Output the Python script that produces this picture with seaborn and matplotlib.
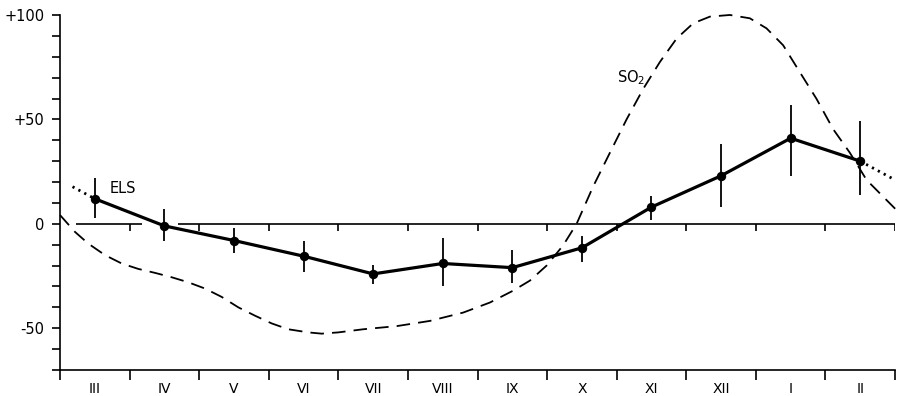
import numpy as np
import pandas as pd
import matplotlib
matplotlib.use("Agg")
import matplotlib.pyplot as plt
import seaborn as sns

# Months (March .. February)
months = ["III", "IV", "V", "VI", "VII", "VIII", "IX", "X", "XI", "XII", "I", "II"]

# ELS monthly deviations with error-bar limits
els = [12, -1, -8, -15.5, -24, -19, -21, -11.5, 8, 23, 41, 30]
els_upper = [22, 7, -2, -8, -19.5, -7, -12.5, -6, 13.5, 38, 57, 49]
els_lower = [3, -8, -14, -23, -29, -30, -28.5, -18.5, 2, 8, 23, 14]

# SO2 curve (x in month units from start of III)
so2_x = [0.0, 0.216, 0.407, 0.647, 0.886, 1.125, 1.365, 1.605, 1.843, 2.083,
         2.323, 2.562, 2.802, 3.042, 3.280, 3.567, 3.760, 3.999, 4.358, 4.838,
         5.316, 5.795, 6.178, 6.513, 6.753, 6.993, 7.231, 7.424, 7.662, 7.902,
         8.142, 8.381, 8.621, 8.861, 9.099, 9.339, 9.626, 9.914, 10.153, 10.392,
         10.632, 10.872, 11.111, 11.351, 11.591, 11.829, 12.044]
so2_y = [4.2, -3.9, -9.5, -15, -19, -21.6, -23.5, -25.6, -28, -31,
         -35, -40, -44, -47.7, -50.5, -52, -52.6, -52, -50.5, -49,
         -46.5, -42.5, -37.7, -32, -27.2, -20, -10.3, 0, 17.9, 34,
         50, 64.6, 77.5, 88.7, 96, 99.2, 100, 98.4, 93.6, 85.5,
         72.6, 59.8, 45.3, 34, 21, 13, 5.8]

sns.set_style("ticks")
plt.rcParams["font.family"] = ["DejaVu Sans"]
plt.rcParams["text.color"] = "black"
plt.rcParams["xtick.color"] = "black"
plt.rcParams["ytick.color"] = "black"
plt.rcParams["axes.edgecolor"] = "black"

fig = plt.figure(figsize=(9.05, 3.96), dpi=100)
ax = fig.add_axes([0.0663, 0.0657, 0.9227, 0.8965])

pos = np.arange(len(months)) + 0.5
df_els = pd.DataFrame({"x": pos, "y": els})
df_so2 = pd.DataFrame({"x": so2_x, "y": so2_y})

# zero reference line with small ticks at month boundaries
ax.hlines(0, 0.23, 1.18, color="black", lw=1.2)
ax.hlines(0, 1.70, 12, color="black", lw=1.2)
ax.vlines(np.arange(1, 13), -3.5, 0, color="black", lw=1.2)

# SO2 dashed curve
sns.lineplot(data=df_so2, x="x", y="y", ax=ax, color="black", lw=1.3,
             sort=False, clip_on=False)
ax.lines[-1].set_dashes((7.5, 4.5))

# ELS error bars
ax.vlines(pos, els_lower, els_upper, color="black", lw=1.3)

# ELS line with markers
sns.lineplot(data=df_els, x="x", y="y", ax=ax, color="black", lw=2.3,
             marker="o", markersize=6, markeredgecolor="black")

# dotted wrap-around extensions (II -> III)
left_y = np.interp(0.18, [-0.5, 0.5], [els[-1], els[0]])
right_y = np.interp(11.97, [11.5, 12.5], [els[-1], els[0]])
ax.plot([0.18, 0.5], [left_y, els[0]], color="black", lw=2.0, ls=(0, (0.8, 1.6)))
ax.plot([11.5, 11.97], [els[-1], right_y], color="black", lw=2.0, ls=(0, (0.8, 1.6)))

ax.text(0.72, 17, "ELS", fontsize=10.5, va="center", ha="left")
ax.text(8.0, 70, "SO$_2$", fontsize=10.5, va="center", ha="left")

ax.set_xlim(0, 12)
ax.set_ylim(-70, 100)

ax.set_xticks(np.arange(13))
ax.set_xticklabels([])
ax.set_xticks(pos, minor=True)
ax.set_xticklabels(months, minor=True, fontsize=10)
ax.tick_params(axis="x", which="major", direction="out", length=7, width=1.2)
ax.tick_params(axis="x", which="minor", length=0, pad=9)

ax.set_yticks([-50, 0, 50, 100])
ax.set_yticklabels(["-50", "0", "+50", "+100"], fontsize=10.5)
ax.set_yticks(np.arange(-70, 101, 10), minor=True)
ax.tick_params(axis="y", which="both", direction="out", length=6, width=1.2, pad=5)

ax.set_xlabel("")
ax.set_ylabel("")
sns.despine(ax=ax)
for s in ["left", "bottom"]:
    ax.spines[s].set_linewidth(1.2)

fig.savefig("out.png", dpi=100)
